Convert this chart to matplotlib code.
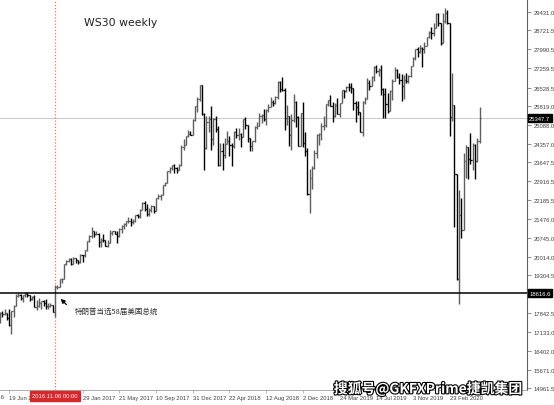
import matplotlib
matplotlib.use('Agg')
import matplotlib.pyplot as plt
import matplotlib.patheffects as pe
import matplotlib.transforms as mtransforms
import numpy as np
import pandas as pd

# weekly WS30 bars, first bar = week starting 2016-05-01 (sunday)
start_week = '2016-05-01'

opens = [
    # 2016
    17773, 17740, 17535, 17500, 17873, 17807, 17865, 17675, 17400, 17949,
    18147, 18516, 18571, 18432, 18544, 18576, 18552, 18395, 18492, 18085,
    18124, 18261, 18308, 18240, 18138, 18145, 18161, 17888, 18847, 18868,
    19152, 19170, 19757, 19843, 19934,
    # 2017
    19763, 19964, 19886, 19827, 20094, 20071, 20269, 20624, 20822, 21006,
    20903, 20915, 20597, 20663, 20656, 20453, 20548, 20940, 21006, 20897,
    20804, 21080, 21206, 21272, 21384, 21395, 21350, 21414, 21638, 21580,
    21830, 22093, 21858, 21675, 21814, 21988, 21798, 22268, 22350, 22405,
    22773, 22871, 23329, 23434, 23539, 23422, 23358, 23558, 24231, 24329,
    24651, 24754,
    # 2018
    24719, 25295, 25803, 26072, 26616, 25521, 24191, 25219, 25310, 24538,
    25336, 24946, 23533, 24103, 23933, 24360, 24463, 24311, 24263, 24831,
    24715, 24753, 24635, 25317, 25090, 24580, 24271, 24456, 25019, 25058,
    25451, 25463, 25313, 25669, 25790, 25965, 25917, 26155, 26744, 26458,
    26447, 25340, 25444, 24688, 25271, 25989, 25413, 24286, 25538, 24389,
    24101, 22445, 23062,
    # 2019
    23433, 23996, 24706, 24737, 25064, 25106, 25883, 26031, 25820, 25450,
    25849, 25502, 25929, 26425, 26412, 26559, 26543, 26505, 25942, 25764,
    25586, 24815, 25984, 26090, 26719, 26600, 26922, 27332, 27154, 27192,
    26485, 26287, 25886, 25629, 26403, 26797, 27220, 26935, 26820, 26573,
    26817, 26770, 26958, 27347, 27681, 28005, 27876, 28051, 28015, 28135,
    28455, 28645,
    # 2020
    28634, 28823, 29348, 28990, 28256, 29102, 29398, 28992, 25409, 25865,
    23185, 19174, 21637, 21053, 23719, 24242, 23775, 23724, 24331, 23685,
    24465,
]

highs = [
    18000, 17750, 17700, 17891, 17930, 18005, 17865, 18010, 17950, 18160,
    18600, 18620, 18580, 18560, 18670, 18650, 18560, 18530, 18540, 18360,
    18450, 18340, 18350, 18400, 18250, 18260, 18180, 18930, 18935, 19153,
    19225, 19760, 19912, 19987, 19980,
    19999, 19974, 19900, 20125, 20100, 20298, 20640, 20840, 21169, 21010,
    21000, 20950, 20750, 20890, 20670, 20680, 21070, 21030, 21010, 21000,
    21110, 21225, 21305, 21400, 21535, 21500, 21480, 21640, 21680, 21850,
    22110, 22180, 22040, 21900, 22010, 21990, 22270, 22420, 22420, 22800,
    22905, 23330, 23490, 23560, 23600, 23460, 23600, 24330, 24535, 24670,
    24876, 24850,
    25300, 25810, 26150, 26620, 26620, 25550, 25430, 25430, 25800, 25340,
    25450, 25050, 24400, 24400, 24600, 24860, 24660, 24400, 24860, 24960,
    24960, 24790, 25330, 25400, 25100, 24600, 24480, 25030, 25200, 25530,
    25500, 25690, 25700, 25880, 26170, 26060, 26200, 26770, 26770, 26951,
    26500, 25850, 25450, 25500, 26280, 26000, 25420, 25540, 25980, 24800,
    24200, 23380, 23530,
    24110, 24750, 24770, 25180, 25440, 25890, 26050, 26240, 25960, 25950,
    26110, 25950, 26430, 26440, 26580, 26700, 26700, 26510, 26000, 26000,
    25600, 26000, 26180, 26900, 26800, 26970, 27340, 27400, 27270, 27400,
    26500, 26500, 26300, 26440, 26860, 27300, 27230, 27080, 27050, 27000,
    27100, 27000, 27350, 27700, 28010, 28090, 28175, 28070, 28290, 28460,
    28700, 28870,
    29010, 29375, 29375, 29000, 29410, 29568, 29500, 28992, 27100, 25870,
    23200, 22600, 22300, 24000, 24300, 24250, 24765, 24400, 24350, 24600,
    25760,
]

lows = [
    17630, 17500, 17330, 17480, 17710, 17800, 17600, 17356, 17063, 17713,
    18140, 18470, 18360, 18290, 18490, 18460, 18330, 18360, 18080, 17990,
    18090, 18030, 18140, 18030, 18030, 18100, 17880, 17700, 18800, 18860,
    19000, 19150, 19700, 19830, 19718,
    19730, 19775, 19730, 19800, 19830, 20000, 20260, 20600, 20750, 20800,
    20840, 20410, 20380, 20580, 20440, 20380, 20540, 20870, 20880, 20550,
    20800, 20950, 21100, 21200, 21310, 21200, 21280, 21350, 21500, 21510,
    21820, 21800, 21600, 21600, 21750, 21720, 21790, 22250, 22200, 22400,
    22730, 22860, 23230, 23340, 23250, 23240, 23340, 23500, 24140, 24300,
    24640, 24710,
    24700, 25250, 25600, 26000, 25490, 23360, 24180, 24800, 24120, 24300,
    24800, 23510, 23500, 23340, 23800, 24350, 23880, 23530, 24200, 24600,
    24500, 24250, 24630, 24950, 24450, 24080, 24100, 24450, 24950, 25050,
    25150, 25250, 25100, 25600, 25780, 25800, 25900, 26100, 26360, 26400,
    24900, 25100, 24280, 24120, 25200, 25000, 24270, 24280, 24240, 23880,
    22400, 21713, 22640,
    23400, 23800, 24300, 24500, 24880, 25000, 25800, 25800, 25210, 25400,
    25500, 25400, 25920, 26140, 26350, 26400, 26300, 25650, 25220, 25460,
    24800, 24680, 25900, 26080, 26440, 26590, 26760, 27100, 26970, 26250,
    25340, 25340, 25550, 25620, 26050, 26790, 26900, 26680, 26000, 26100,
    26700, 26690, 26950, 27340, 27600, 27700, 27860, 27325, 27850, 28120,
    28450, 28400,
    28500, 28820, 28900, 28170, 28250, 29000, 28980, 24680, 25230, 21150,
    19120, 18213, 20730, 21050, 23040, 23000, 23600, 23360, 23000, 23680,
    24400,
]

closes = [
    17740, 17535, 17500, 17873, 17807, 17865, 17675, 17400, 17949, 18147,
    18516, 18571, 18432, 18544, 18576, 18552, 18395, 18492, 18085, 18124,
    18261, 18308, 18240, 18138, 18145, 18161, 17888, 18847, 18868, 19152,
    19170, 19757, 19843, 19934, 19763,
    19964, 19886, 19827, 20094, 20071, 20269, 20624, 20822, 21006, 20903,
    20915, 20597, 20663, 20656, 20453, 20548, 20940, 21006, 20897, 20804,
    21080, 21206, 21272, 21384, 21395, 21350, 21414, 21638, 21580, 21830,
    22093, 21858, 21675, 21814, 21988, 21798, 22268, 22350, 22405, 22773,
    22871, 23329, 23434, 23539, 23422, 23358, 23558, 24231, 24329, 24651,
    24754, 24719,
    25295, 25803, 26072, 26616, 25521, 24191, 25219, 25310, 24538, 25336,
    24946, 23533, 24103, 23933, 24360, 24463, 24311, 24263, 24831, 24715,
    24753, 24635, 25317, 25090, 24580, 24271, 24456, 25019, 25058, 25451,
    25463, 25313, 25669, 25790, 25965, 25917, 26155, 26744, 26458, 26447,
    25340, 25444, 24688, 25271, 25989, 25413, 24286, 25538, 24389, 24101,
    22445, 23062, 23433,
    23996, 24706, 24737, 25064, 25106, 25883, 26031, 25820, 25450, 25849,
    25502, 25929, 26425, 26412, 26559, 26543, 26505, 25942, 25764, 25586,
    24815, 25984, 26090, 26719, 26600, 26922, 27332, 27154, 27192, 26485,
    26287, 25886, 25629, 26403, 26797, 27220, 26935, 26820, 26573, 26817,
    26770, 26958, 27347, 27681, 28005, 27876, 28051, 28015, 28135, 28455,
    28645, 28634,
    28823, 29348, 28990, 28256, 29102, 29398, 28992, 25409, 25865, 23185,
    19174, 21637, 21053, 23719, 24242, 23775, 23724, 24331, 23685, 24465,
    25347.7,
]

election_week = '2016-11-06'
trump_level = 18616.6
last_price = 25347.7
y_ticks = [29431.0, 28721.5, 27990.5, 27259.5, 26528.5, 25819.0, 25088.0,
           24357.0, 23647.5, 22916.5, 22185.5, 21476.0, 20745.0, 20014.0,
           19304.5, 17842.5, 17133.0, 16402.0, 15671.0, 14961.5]
title = 'WS30 weekly'
note = '特朗普当选58届美国总统'
watermark = '搜狐号@GKFXPrime捷凯集团'

weeks = pd.date_range(start_week, periods=len(closes), freq='7D')
x = np.arange(len(closes))
o = np.array(opens, dtype=float)
h = np.array(highs, dtype=float)
l = np.array(lows, dtype=float)
c = np.array(closes, dtype=float)
ei = int(np.where(weeks == pd.Timestamp(election_week))[0][0])

W, H = 554, 406
fig = plt.figure(figsize=(W / 100, H / 100), dpi=100)
ax = fig.add_axes([0, 15 / H, 527 / W, 391 / H])

up = c >= o
cols = np.where(up, '#5e5e5e', '#000000')
ax.vlines(x, l, h, colors=cols, lw=1.0, zorder=3)
ax.hlines(o, x - 0.5, x, colors=cols, lw=0.9, zorder=3)
ax.hlines(c, x, x + 0.5, colors=cols, lw=0.9, zorder=3)

ax.axhline(last_price, color='#c8c8c8', lw=0.7, zorder=1)
ax.axhline(trump_level, color='black', lw=1.1, zorder=4)
ax.axvline(ei, color='#e8785f', lw=0.9, ls=(0, (1, 1.5)), zorder=2)

px = 2.295  # pixels per weekly bar
ax.set_xlim(ei - 55 / px, ei + (527 - 55) / px)
ax.set_ylim(29431 - 378 * 38.44, 29431 + 13 * 38.44)

# axes look
for s in ['top', 'left']:
    ax.spines[s].set_visible(False)
ax.spines['right'].set_color('#606060')
ax.spines['bottom'].set_color('#a0a0a0')
ax.spines['right'].set_linewidth(0.8)
ax.spines['bottom'].set_linewidth(0.6)

ax.yaxis.tick_right()
ax.set_yticks(y_ticks)
ax.set_yticklabels([f'{v:.1f}' for v in y_ticks])
ax.tick_params(axis='y', length=3, width=0.5, pad=2, labelsize=4.2,
               colors='#606060', labelcolor='#404040')

tick_idx = list(range(7, len(closes), 16))
ax.set_xticks(tick_idx)
ax.set_xticklabels([f'{weeks[i].day} {weeks[i].strftime("%b %Y")}' for i in tick_idx])
ax.tick_params(axis='x', length=2, width=0.5, pad=1.5, labelsize=4.2,
               colors='#a0a0a0', labelcolor='#404040')
for lab in ax.get_xticklabels():
    lab.set_ha('left')
    lab.set_fontfamily('Liberation Sans')
for lab in ax.get_yticklabels():
    lab.set_fontfamily('Liberation Sans')

# partly hidden label at left edge
ax.text(4 / 527, -6.5 / 391, '28 Feb 2016', transform=ax.transAxes, ha='right', va='center',
        fontsize=4.2, color='#404040', family='Liberation Sans', clip_on=False)

# price boxes on the right scale
for val in [last_price, trump_level]:
    ax.text(1.004, val, f'{val:.1f}', transform=ax.get_yaxis_transform(),
            ha='left', va='center', fontsize=4.2, color='white', family='Liberation Sans',
            bbox=dict(boxstyle='square,pad=0.25', fc='black', ec='black'), zorder=6, clip_on=False)

# date box under the vertical line
bt = mtransforms.blended_transform_factory(ax.transData, fig.transFigure)
ax.text(ei, 1 - 397 / H, weeks[ei].strftime('%Y.%m.%d 00:00'), transform=bt,
        ha='center', va='center', fontsize=4.2, color='white', family='Liberation Sans',
        bbox=dict(boxstyle='square,pad=0.35', fc='#d8262a', ec='#d8262a'), zorder=10, clip_on=False)

ax.text(84 / 527, 1 - 23 / 391, title, transform=ax.transAxes, ha='left', va='center',
        fontsize=7.8, color='#202020', family='DejaVu Sans')

ax.annotate('', xy=(ei + 1.6, 18480), xytext=(ei + 5.8, 18110),
            arrowprops=dict(arrowstyle='-|>', color='black', lw=0.9, mutation_scale=6), zorder=6)
ax.text(ei + 8.4, 17930, note, ha='left', va='center', fontsize=5.4, color='#303030',
        family=['Noto Sans CJK SC', 'DejaVu Sans'])

fig.text(428 / W, 1 - 390 / H, watermark, ha='center', va='center', fontsize=10,
         fontweight='bold', color='white', family=['Noto Sans CJK SC', 'DejaVu Sans'],
         path_effects=[pe.withStroke(linewidth=1.6, foreground='black')], zorder=20)

fig.savefig('out.png', dpi=100)
